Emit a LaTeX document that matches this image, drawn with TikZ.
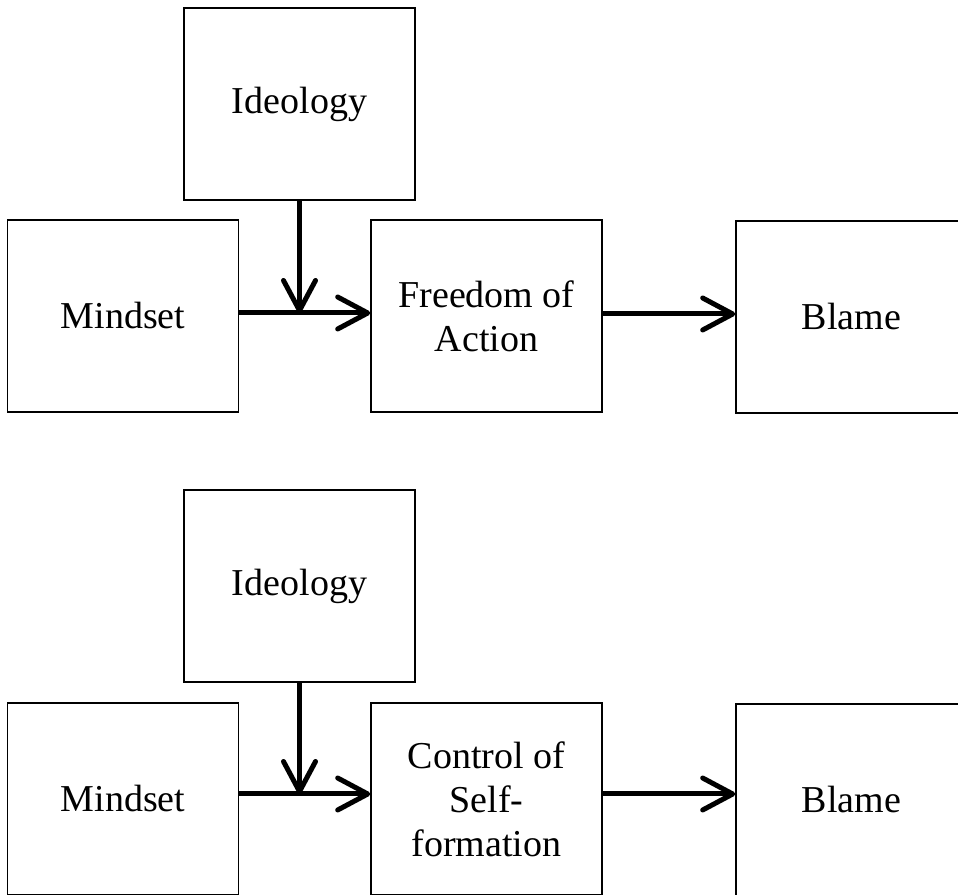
\documentclass[tikz,border=0pt]{standalone}
\usepackage{fontspec}
\setmainfont{Liberation Serif}
\usetikzlibrary{arrows.meta}
\tikzset{
  box/.style={draw, line width=1.6pt, minimum width=231pt, minimum height=192pt,
    inner sep=0pt, align=center, font=\fontsize{38}{44}\selectfont},
  arr/.style={line width=5pt, -{Straight Barb[length=30pt,width=32pt,round]}}
}
\begin{document}
\begin{tikzpicture}[x=1pt,y=1pt]
\clip (0,0) rectangle (958,894);
% top diagram
\node[box] (I1) at (299.5,790) {Ideology};
\node[box] (M1) at (123,578) {Mindset};
\node[box] (F1) at (486.5,578) {Freedom of\\Action};
\node[box] (B1) at (851.5,577) {Blame};
\coordinate (h1) at ([yshift=3pt]M1.east);
\coordinate (j1) at (I1.south |- h1);
\draw[arr] (h1) -- (h1 -| F1.west);
\draw[arr] (I1.south) -- (j1);
\draw[arr] ([yshift=2pt]F1.east) -- ([yshift=2pt]F1.east -| B1.west);
% bottom diagram
\node[box] (I2) at (299.5,308) {Ideology};
\node[box] (M2) at (123,95) {Mindset};
\node[box] (F2) at (486.5,95) {Control of\\Self-\\formation};
\node[box] (B2) at (851.5,94) {Blame};
\coordinate (h2) at ([yshift=5pt]M2.east);
\coordinate (j2) at (I2.south |- h2);
\draw[arr] (h2) -- (h2 -| F2.west);
\draw[arr] (I2.south) -- (j2);
\draw[arr] ([yshift=5pt]F2.east) -- ([yshift=5pt]F2.east -| B2.west);
\end{tikzpicture}
\end{document}
